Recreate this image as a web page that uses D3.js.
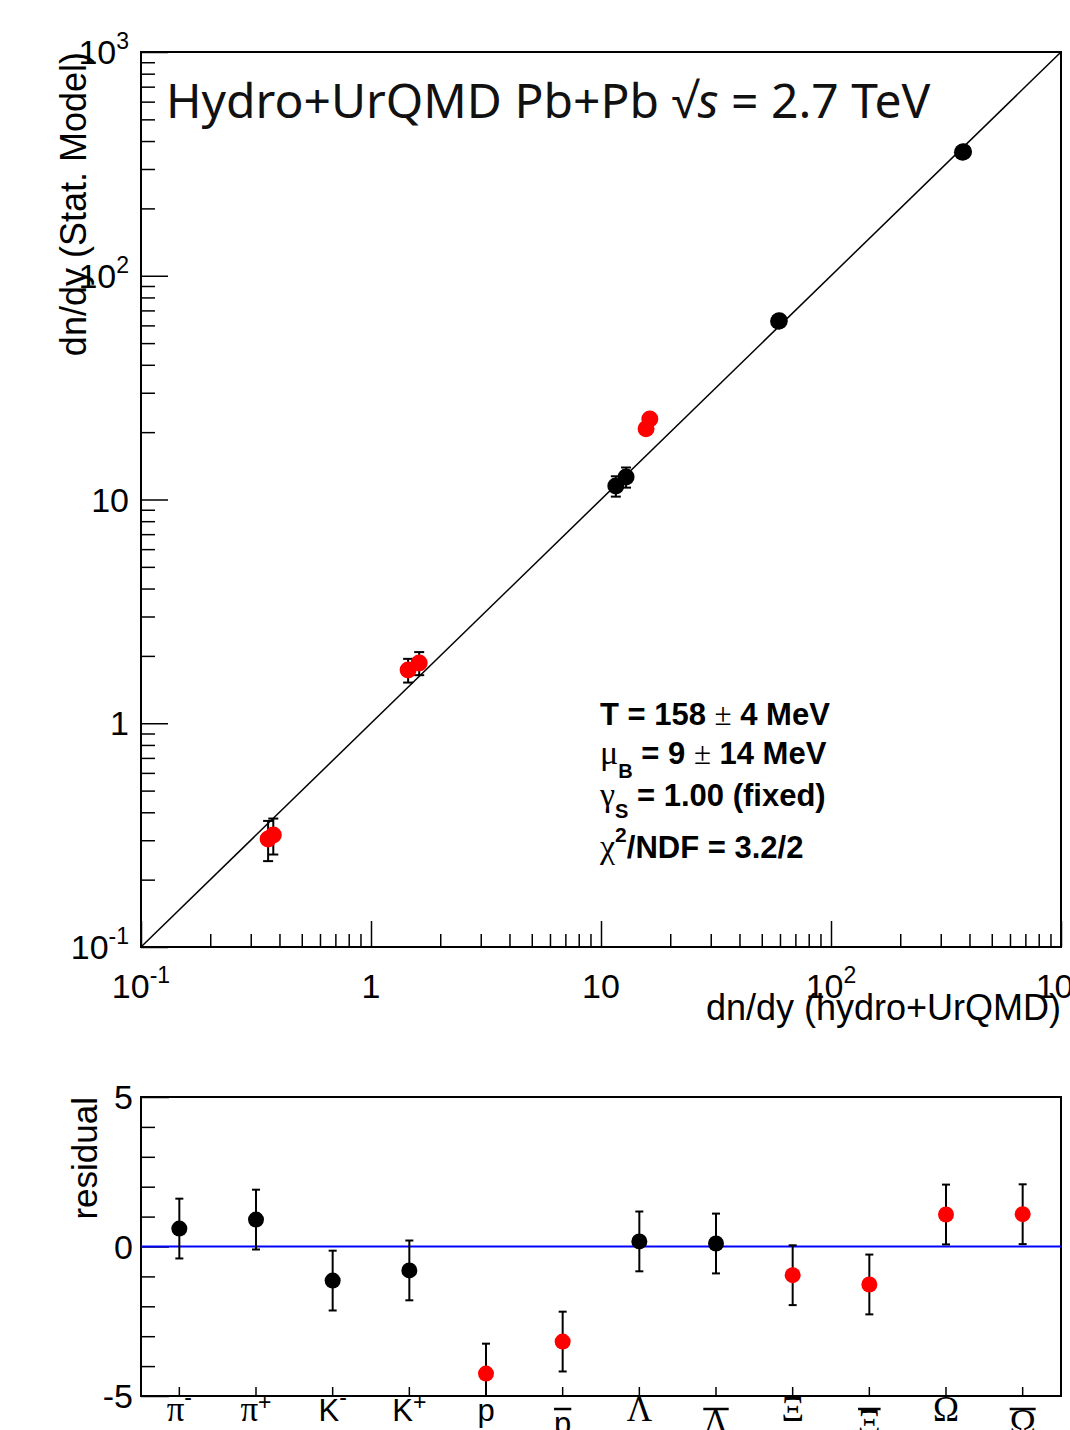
<!DOCTYPE html>
<html>
<head>
<meta charset="utf-8">
<script src="https://cdn.jsdelivr.net/npm/d3@7"></script>
<style>
    body { margin: 0; background: #fff; }
    text { font-family: "Liberation Sans", Arial, Helvetica, sans-serif; fill: #000; }
    .greek { font-family: "Liberation Serif", "Times New Roman", serif; }
</style>
</head>
<body>
<div id="chart"></div>
<script>
// Particle species, in the order of the residual panel
const speciesSymbol = ["π", "π", "K", "K", "p", "p", "Λ", "Λ", "Ξ", "Ξ", "Ω", "Ω"];
const speciesCharge = ["-", "+", "-", "+", "", "", "", "", "", "", "", ""];
const speciesAnti = [false, false, false, false, false, true, false, true, false, true, false, true];
// species drawn with red markers
const speciesHighlight = [false, false, false, false, true, true, false, false, true, true, true, true];

// dn/dy from hydro+UrQMD (x) and from the statistical model (y)
const yieldHydro = [373, 377, 59.2, 59.6, 15.7, 16.3, 11.6, 12.85, 1.45, 1.62, 0.357, 0.376];
const yieldStat = [356, 358, 62.6, 63.0, 20.7, 22.9, 11.5, 12.6, 1.73, 1.86, 0.304, 0.317];
const yieldStatErr = [8, 8, 1.5, 1.5, 0.8, 0.9, 1.2, 1.3, 0.21, 0.22, 0.062, 0.058];

// residuals of the fit
const residual = [0.60, 0.90, -1.14, -0.80, -4.25, -3.18, 0.17, 0.10, -0.96, -1.27, 1.07, 1.08];
const residualErr = [1, 1, 1, 1, 1, 1, 1, 1, 1, 1, 1, 1];

// axis ticks
const logMajorTicks = [0.1, 1, 10, 100, 1000];
const logTickBase = ["10", "1", "10", "10", "10"];
const logTickExp = ["-1", "", "", "2", "3"];
const residualMajorTicks = [-5, 0, 5];
const residualMinorTicks = [-4, -3, -2, -1, 1, 2, 3, 4];

class YieldFitChart {
    constructor(parentElement) {
        this.parentElement = parentElement;
        this.initVis();
    }

    initVis() {
        let vis = this;

        vis.width = 1070;
        vis.height = 1430;

        vis.svg = d3.select("#" + vis.parentElement)
            .append("svg")
            .attr("width", vis.width)
            .attr("height", vis.height);

        vis.data = speciesSymbol.map((s, i) => ({
            symbol: s,
            charge: speciesCharge[i],
            anti: speciesAnti[i],
            color: speciesHighlight[i] ? "#ff0000" : "#000000",
            key: s + speciesCharge[i] + (speciesAnti[i] ? "bar" : ""),
            hydro: yieldHydro[i],
            stat: yieldStat[i],
            statErr: yieldStatErr[i],
            res: residual[i],
            resErr: residualErr[i]
        }));

        vis.drawYieldPanel();
        vis.drawResidualPanel();
    }

    drawYieldPanel() {
        let vis = this;
        const left = 141, right = 1061, top = 52, bottom = 947;

        const x = d3.scaleLog().domain([0.1, 1000]).range([left, right]);
        const y = d3.scaleLog().domain([0.1, 1000]).range([bottom, top]);

        const minorTicks = [];
        [0.1, 1, 10, 100].forEach(d => {
            for (let k = 2; k <= 9; k++) minorTicks.push(d * k);
        });

        const g = vis.svg.append("g");

        // Axes (ticks pointing inwards, labels drawn separately)
        g.append("g")
            .attr("transform", `translate(0,${bottom})`)
            .call(d3.axisBottom(x).tickValues(minorTicks).tickSize(-13).tickFormat(""))
            .call(a => a.select(".domain").remove());
        g.append("g")
            .attr("transform", `translate(0,${bottom})`)
            .call(d3.axisBottom(x).tickValues(logMajorTicks).tickSize(-26).tickFormat(""))
            .call(a => a.select(".domain").remove());
        g.append("g")
            .attr("transform", `translate(${left},0)`)
            .call(d3.axisLeft(y).tickValues(minorTicks).tickSize(-14).tickFormat(""))
            .call(a => a.select(".domain").remove());
        g.append("g")
            .attr("transform", `translate(${left},0)`)
            .call(d3.axisLeft(y).tickValues(logMajorTicks).tickSize(-27).tickFormat(""))
            .call(a => a.select(".domain").remove());
        g.selectAll(".tick line").attr("stroke", "#000").attr("stroke-width", 1.5);

        // Tick labels with exponents
        logMajorTicks.forEach((v, i) => {
            const tx = g.append("text")
                .attr("x", x(v))
                .attr("y", bottom + 51)
                .attr("text-anchor", "middle")
                .style("font-size", "34px");
            tx.append("tspan").text(logTickBase[i]);
            if (logTickExp[i]) tx.append("tspan").attr("dy", -15).style("font-size", "23px").text(logTickExp[i]);

            const ty = g.append("text")
                .attr("x", 129)
                .attr("y", y(v) + 12)
                .attr("text-anchor", "end")
                .style("font-size", "34px");
            ty.append("tspan").text(logTickBase[i]);
            if (logTickExp[i]) ty.append("tspan").attr("dy", -15).style("font-size", "23px").text(logTickExp[i]);
        });

        // Frame
        g.append("rect")
            .attr("x", left).attr("y", top)
            .attr("width", right - left).attr("height", bottom - top)
            .attr("fill", "none").attr("stroke", "#000").attr("stroke-width", 2);

        // Diagonal y = x
        g.append("line")
            .attr("x1", x(0.1)).attr("y1", y(0.1))
            .attr("x2", x(1000)).attr("y2", y(1000))
            .attr("stroke", "#000").attr("stroke-width", 1.5);

        // Error bars
        const eb = g.selectAll(".yield-err")
            .data(vis.data)
            .join("g")
            .attr("class", "yield-err")
            .attr("stroke", "#000")
            .attr("stroke-width", 2);
        eb.append("line")
            .attr("x1", d => x(d.hydro)).attr("x2", d => x(d.hydro))
            .attr("y1", d => y(d.stat - d.statErr)).attr("y2", d => y(d.stat + d.statErr));
        eb.append("line")
            .attr("x1", d => x(d.hydro) - 5).attr("x2", d => x(d.hydro) + 5)
            .attr("y1", d => y(d.stat - d.statErr)).attr("y2", d => y(d.stat - d.statErr));
        eb.append("line")
            .attr("x1", d => x(d.hydro) - 5).attr("x2", d => x(d.hydro) + 5)
            .attr("y1", d => y(d.stat + d.statErr)).attr("y2", d => y(d.stat + d.statErr));

        // Points
        g.selectAll(".yield-point")
            .data(vis.data)
            .join("circle")
            .attr("class", "yield-point")
            .attr("cx", d => x(d.hydro))
            .attr("cy", d => y(d.stat))
            .attr("r", 8.5)
            .attr("fill", d => d.color);

        // Axis titles
        g.append("text")
            .attr("x", right)
            .attr("y", 1020)
            .attr("text-anchor", "end")
            .style("font-size", "36px")
            .text("dn/dy (hydro+UrQMD)");

        g.append("text")
            .attr("transform", `translate(86,${top}) rotate(-90)`)
            .attr("text-anchor", "end")
            .style("font-size", "36px")
            .text("dn/dy (Stat. Model)");

        // Title
        const title = g.append("text")
            .attr("x", 166)
            .attr("y", 118)
            .style("font-family", "'Noto Sans', 'Open Sans', sans-serif")
            .style("font-size", "48px")
            .style("fill", "#111");
        title.append("tspan").text("Hydro+UrQMD Pb+Pb √");
        title.append("tspan").style("font-style", "italic").text("s");
        title.append("tspan").text(" = 2.7 TeV");

        // Fit results
        const fit = g.append("g").style("font-weight", "bold").style("font-size", "31px");
        const l1 = fit.append("text").attr("x", 600).attr("y", 725);
        l1.append("tspan").text("T = 158 ");
        l1.append("tspan").attr("class", "greek").style("font-weight", "normal").text("±");
        l1.append("tspan").text(" 4 MeV");

        const l2 = fit.append("text").attr("x", 600).attr("y", 764);
        l2.append("tspan").attr("class", "greek").style("font-weight", "normal").style("font-size", "34px").text("μ");
        l2.append("tspan").attr("dy", 14).style("font-size", "20px").text("B");
        l2.append("tspan").attr("dy", -14).text(" = 9 ");
        l2.append("tspan").attr("class", "greek").style("font-weight", "normal").text("±");
        l2.append("tspan").text(" 14 MeV");

        const l3 = fit.append("text").attr("x", 600).attr("y", 806);
        l3.append("tspan").attr("class", "greek").style("font-weight", "normal").style("font-size", "34px").text("γ");
        l3.append("tspan").attr("dy", 12).style("font-size", "20px").text("S");
        l3.append("tspan").attr("dy", -12).text(" = 1.00 (fixed)");

        const l4 = fit.append("text").attr("x", 600).attr("y", 858);
        l4.append("tspan").attr("class", "greek").style("font-weight", "normal").style("font-size", "34px").text("χ");
        l4.append("tspan").attr("dy", -16).style("font-size", "21px").text("2");
        l4.append("tspan").attr("dy", 16).text("/NDF = 3.2/2");
    }

    drawResidualPanel() {
        let vis = this;
        const left = 141, right = 1061, top = 1097, bottom = 1396;

        const x = d3.scaleBand().domain(vis.data.map(d => d.key)).range([left, right]);
        const y = d3.scaleLinear().domain([-5, 5]).range([bottom, top]);
        const cx = d => x(d.key) + x.bandwidth() / 2;

        const g = vis.svg.append("g");

        vis.svg.append("clipPath").attr("id", "res-clip")
            .append("rect")
            .attr("x", left).attr("y", top)
            .attr("width", right - left).attr("height", bottom - top);

        // Axes
        g.append("g")
            .attr("transform", `translate(${left},0)`)
            .call(d3.axisLeft(y).tickValues(residualMinorTicks).tickSize(-14).tickFormat(""))
            .call(a => a.select(".domain").remove());
        g.append("g")
            .attr("transform", `translate(${left},0)`)
            .call(d3.axisLeft(y).tickValues(residualMajorTicks).tickSize(-28).tickFormat(""))
            .call(a => a.select(".domain").remove());
        g.append("g")
            .attr("transform", `translate(0,${bottom})`)
            .call(d3.axisBottom(x).tickSize(-9).tickFormat(""))
            .call(a => a.select(".domain").remove());
        g.selectAll(".tick line").attr("stroke", "#000").attr("stroke-width", 1.5);

        g.selectAll(".res-label")
            .data(residualMajorTicks)
            .join("text")
            .attr("class", "res-label")
            .attr("x", 133)
            .attr("y", d => y(d) + 12)
            .attr("text-anchor", "end")
            .style("font-size", "34px")
            .text(d => d);

        // Species labels
        vis.data.forEach(d => {
            const greek = d.symbol !== "K" && d.symbol !== "p";
            const t = g.append("text")
                .attr("x", cx(d))
                .attr("y", d.anti ? 1434 : 1421)
                .attr("text-anchor", "middle")
                .attr("class", greek ? "greek" : null)
                .style("font-size", greek ? "35px" : "31px");
            t.append("tspan").text(d.symbol);
            if (d.charge) {
                t.append("tspan")
                    .attr("dy", d.charge === "-" ? -16 : -11)
                    .style("font-size", "23px")
                    .style("font-family", "'Liberation Sans', Arial, sans-serif")
                    .text(d.charge);
            }
            if (d.anti) {
                const w = t.node().getComputedTextLength();
                g.append("line")
                    .attr("x1", cx(d) - w / 2).attr("x2", cx(d) + w / 2)
                    .attr("y1", 1409).attr("y2", 1409)
                    .attr("stroke", "#000").attr("stroke-width", 2.5);
            }
        });

        // Frame
        g.append("rect")
            .attr("x", left).attr("y", top)
            .attr("width", right - left).attr("height", bottom - top)
            .attr("fill", "none").attr("stroke", "#000").attr("stroke-width", 2);

        // Zero line
        g.append("line")
            .attr("x1", left).attr("x2", right)
            .attr("y1", y(0)).attr("y2", y(0))
            .attr("stroke", "#0000ff").attr("stroke-width", 2);

        // Error bars
        const eb = g.selectAll(".res-err")
            .data(vis.data)
            .join("g")
            .attr("class", "res-err")
            .attr("clip-path", "url(#res-clip)")
            .attr("stroke", "#000")
            .attr("stroke-width", 2);
        eb.append("line")
            .attr("x1", cx).attr("x2", cx)
            .attr("y1", d => y(d.res - d.resErr)).attr("y2", d => y(d.res + d.resErr));
        eb.append("line")
            .attr("x1", d => cx(d) - 4).attr("x2", d => cx(d) + 4)
            .attr("y1", d => y(d.res - d.resErr)).attr("y2", d => y(d.res - d.resErr));
        eb.append("line")
            .attr("x1", d => cx(d) - 4).attr("x2", d => cx(d) + 4)
            .attr("y1", d => y(d.res + d.resErr)).attr("y2", d => y(d.res + d.resErr));

        // Points
        g.selectAll(".res-point")
            .data(vis.data)
            .join("circle")
            .attr("class", "res-point")
            .attr("cx", cx)
            .attr("cy", d => y(d.res))
            .attr("r", 8)
            .attr("fill", d => d.color);

        // Axis title
        g.append("text")
            .attr("transform", `translate(97,${top}) rotate(-90)`)
            .attr("text-anchor", "end")
            .style("font-size", "35px")
            .text("residual");
    }
}

new YieldFitChart("chart");
</script>
</body>
</html>
